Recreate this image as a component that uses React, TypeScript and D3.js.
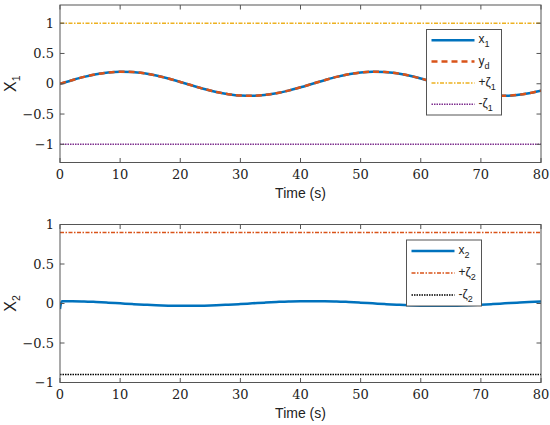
import React from 'react';
import * as d3 from 'd3';

// sample times (s)
const time = [0, 2, 4, 6, 8, 10, 12, 14, 16, 18, 20, 22, 24, 26, 28, 30, 32, 34, 36, 38, 40,
    42, 44, 46, 48, 50, 52, 54, 56, 58, 60, 62, 64, 66, 68, 70, 72, 74, 76, 78, 80];

// x1 and reference yd
const x1 = [0, 0.059, 0.113, 0.156, 0.186, 0.199, 0.195, 0.173, 0.136, 0.087, 0.03, -0.03, -0.087,
    -0.136, -0.173, -0.195, -0.199, -0.186, -0.156, -0.113, -0.059, 0, 0.059, 0.113, 0.156, 0.186,
    0.199, 0.195, 0.173, 0.136, 0.087, 0.03, -0.03, -0.087, -0.136, -0.173, -0.195, -0.199, -0.186,
    -0.156, -0.113];
const yd = [0, 0.059, 0.113, 0.156, 0.186, 0.199, 0.195, 0.173, 0.136, 0.087, 0.03, -0.03, -0.087,
    -0.136, -0.173, -0.195, -0.199, -0.186, -0.156, -0.113, -0.059, 0, 0.059, 0.113, 0.156, 0.186,
    0.199, 0.195, 0.173, 0.136, 0.087, 0.03, -0.03, -0.087, -0.136, -0.173, -0.195, -0.199, -0.186,
    -0.156, -0.113];

// x2 (with the start-up spike)
const time2 = [0, 0.3, 2, 4, 6, 8, 10, 12, 14, 16, 18, 20, 22, 24, 26, 28, 30, 32, 34, 36, 38, 40,
    42, 44, 46, 48, 50, 52, 54, 56, 58, 60, 62, 64, 66, 68, 70, 72, 74, 76, 78, 80];
const x2 = [-0.07, 0.03, 0.029, 0.026, 0.019, 0.011, 0.002, -0.007, -0.015, -0.022, -0.027, -0.03,
    -0.03, -0.027, -0.022, -0.015, -0.007, 0.002, 0.011, 0.019, 0.026, 0.029, 0.03, 0.029, 0.026,
    0.019, 0.011, 0.002, -0.007, -0.015, -0.022, -0.027, -0.03, -0.03, -0.027, -0.022, -0.015,
    -0.007, 0.002, 0.011, 0.019, 0.025];

const zeta1 = 1;
const zeta2 = 0.9;

const xTicks = [0, 10, 20, 30, 40, 50, 60, 70, 80];
const yTicks = [-1, -0.5, 0, 0.5, 1];

const BLUE = '#0072BD';
const RED = '#D95319';
const YELLOW = '#EDB120';
const PURPLE = '#7E2F8E';
const AXIS = '#555';
const SERIF = { fontFamily: "'DejaVu Serif', 'Liberation Serif', serif" };
const SANS = { fontFamily: "'Liberation Sans', Arial, Helvetica, sans-serif" };

interface Series {
    t: number[];
    v: number[];
    color: string;
    width: number;
    dash?: string;
    label: string;
    sub: string;
}

interface PanelProps {
    top: number;
    bottom: number;
    yDomain: [number, number];
    series: Series[];
    ylabelSub: string;
    legend: { x: number; y: number; w: number; h: number };
}

function fmt(v: number) {
    return v < 0 ? '\u2212' + String(-v) : String(v);
}

function Panel({ top, bottom, yDomain, series, ylabelSub, legend }: PanelProps) {
    const left = 60, right = 541;
    const x = d3.scaleLinear().domain([0, 80]).range([left, right]);
    const y = d3.scaleLinear().domain(yDomain).range([bottom, top]);
    const line = d3.line<[number, number]>()
        .x(d => x(d[0]))
        .y(d => y(d[1]))
        .curve(d3.curveMonotoneX);
    const tl = 4.5;
    const clipId = `clip${top}`;
    const rowH = legend.h / series.length;

    return (
        <g>
            <defs>
                <clipPath id={clipId}>
                    <rect x={left} y={top} width={right - left} height={bottom - top} />
                </clipPath>
            </defs>
            <g clipPath={`url(#${clipId})`}>
                {series.map((s, i) => (
                    <path key={i} d={line(s.t.map((t, j) => [t, s.v[j]] as [number, number])) || ''}
                        fill="none" stroke={s.color} strokeWidth={s.width} strokeDasharray={s.dash} />
                ))}
            </g>
            {/* box and ticks */}
            <rect x={left} y={top} width={right - left} height={bottom - top} fill="none" stroke={AXIS} strokeWidth={1} />
            {xTicks.map(t => (
                <g key={'x' + t}>
                    <line x1={x(t)} x2={x(t)} y1={bottom} y2={bottom - tl} stroke={AXIS} />
                    <line x1={x(t)} x2={x(t)} y1={top} y2={top + tl} stroke={AXIS} />
                    <text x={x(t)} y={bottom + 16} textAnchor="middle" style={SERIF} fontSize={13} fill="#222">{t}</text>
                </g>
            ))}
            {yTicks.map(t => (
                <g key={'y' + t}>
                    <line x1={left} x2={left + tl} y1={y(t)} y2={y(t)} stroke={AXIS} />
                    <line x1={right} x2={right - tl} y1={y(t)} y2={y(t)} stroke={AXIS} />
                    <text x={left - 6} y={y(t) + 4.5} textAnchor="end" style={SERIF} fontSize={13} fill="#222">{fmt(t)}</text>
                </g>
            ))}
            <text x={(left + right) / 2} y={bottom + 35} textAnchor="middle" style={SANS} fontSize={14} fill="#222">Time (s)</text>
            <text transform={`translate(16, ${(top + bottom) / 2}) rotate(-90)`} textAnchor="middle" style={SANS} fontSize={16} fill="#222">
                X<tspan fontSize={10.5} dy={4}>{ylabelSub}</tspan>
            </text>
            {/* legend */}
            <rect x={legend.x} y={legend.y} width={legend.w} height={legend.h} fill="#fff" stroke={AXIS} strokeWidth={1} />
            {series.map((s, i) => {
                const cy = legend.y + rowH * (i + 0.5);
                return (
                    <g key={'l' + i}>
                        <line x1={legend.x + 5} x2={legend.x + 48} y1={cy} y2={cy} stroke={s.color}
                            strokeWidth={s.width} strokeDasharray={s.dash} />
                        <text x={legend.x + 52} y={cy + 3} style={SANS} fontSize={12} fill="#222">
                            {s.label}<tspan fontSize={9} dy={4}>{s.sub}</tspan>
                        </text>
                    </g>
                );
            })}
        </g>
    );
}

export default function App() {
    const flat = (v: number) => [v, v];
    const ends = [0, 80];

    const top: Series[] = [
        { t: time, v: x1, color: BLUE, width: 2.5, label: 'x', sub: '1' },
        { t: time, v: yd, color: RED, width: 2.5, dash: '6 4', label: 'y', sub: 'd' },
        { t: ends, v: flat(zeta1), color: YELLOW, width: 1.5, dash: '4 1.5 1.5 1.5', label: '+\u03b6', sub: '1' },
        { t: ends, v: flat(-zeta1), color: PURPLE, width: 1.5, dash: '1.5 1', label: '-\u03b6', sub: '1' },
    ];
    const bottom: Series[] = [
        { t: time2, v: x2, color: BLUE, width: 2.5, label: 'x', sub: '2' },
        { t: ends, v: flat(zeta2), color: RED, width: 1.5, dash: '4 1.5 1.5 1.5', label: '+\u03b6', sub: '2' },
        { t: ends, v: flat(-zeta2), color: '#000', width: 1.5, dash: '1.5 1', label: '-\u03b6', sub: '2' },
    ];

    return (
        <svg width={550} height={425} style={{ position: 'absolute', left: 0, top: 0, background: '#fff' }}>
            <Panel top={5} bottom={162.5} yDomain={[-1.3, 1.3]} series={top} ylabelSub="1"
                legend={{ x: 426.5, y: 29.5, w: 75, h: 85.5 }} />
            <Panel top={224.5} bottom={382.5} yDomain={[-1, 1]} series={bottom} ylabelSub="2"
                legend={{ x: 406.5, y: 240, w: 75, h: 66 }} />
        </svg>
    );
}
